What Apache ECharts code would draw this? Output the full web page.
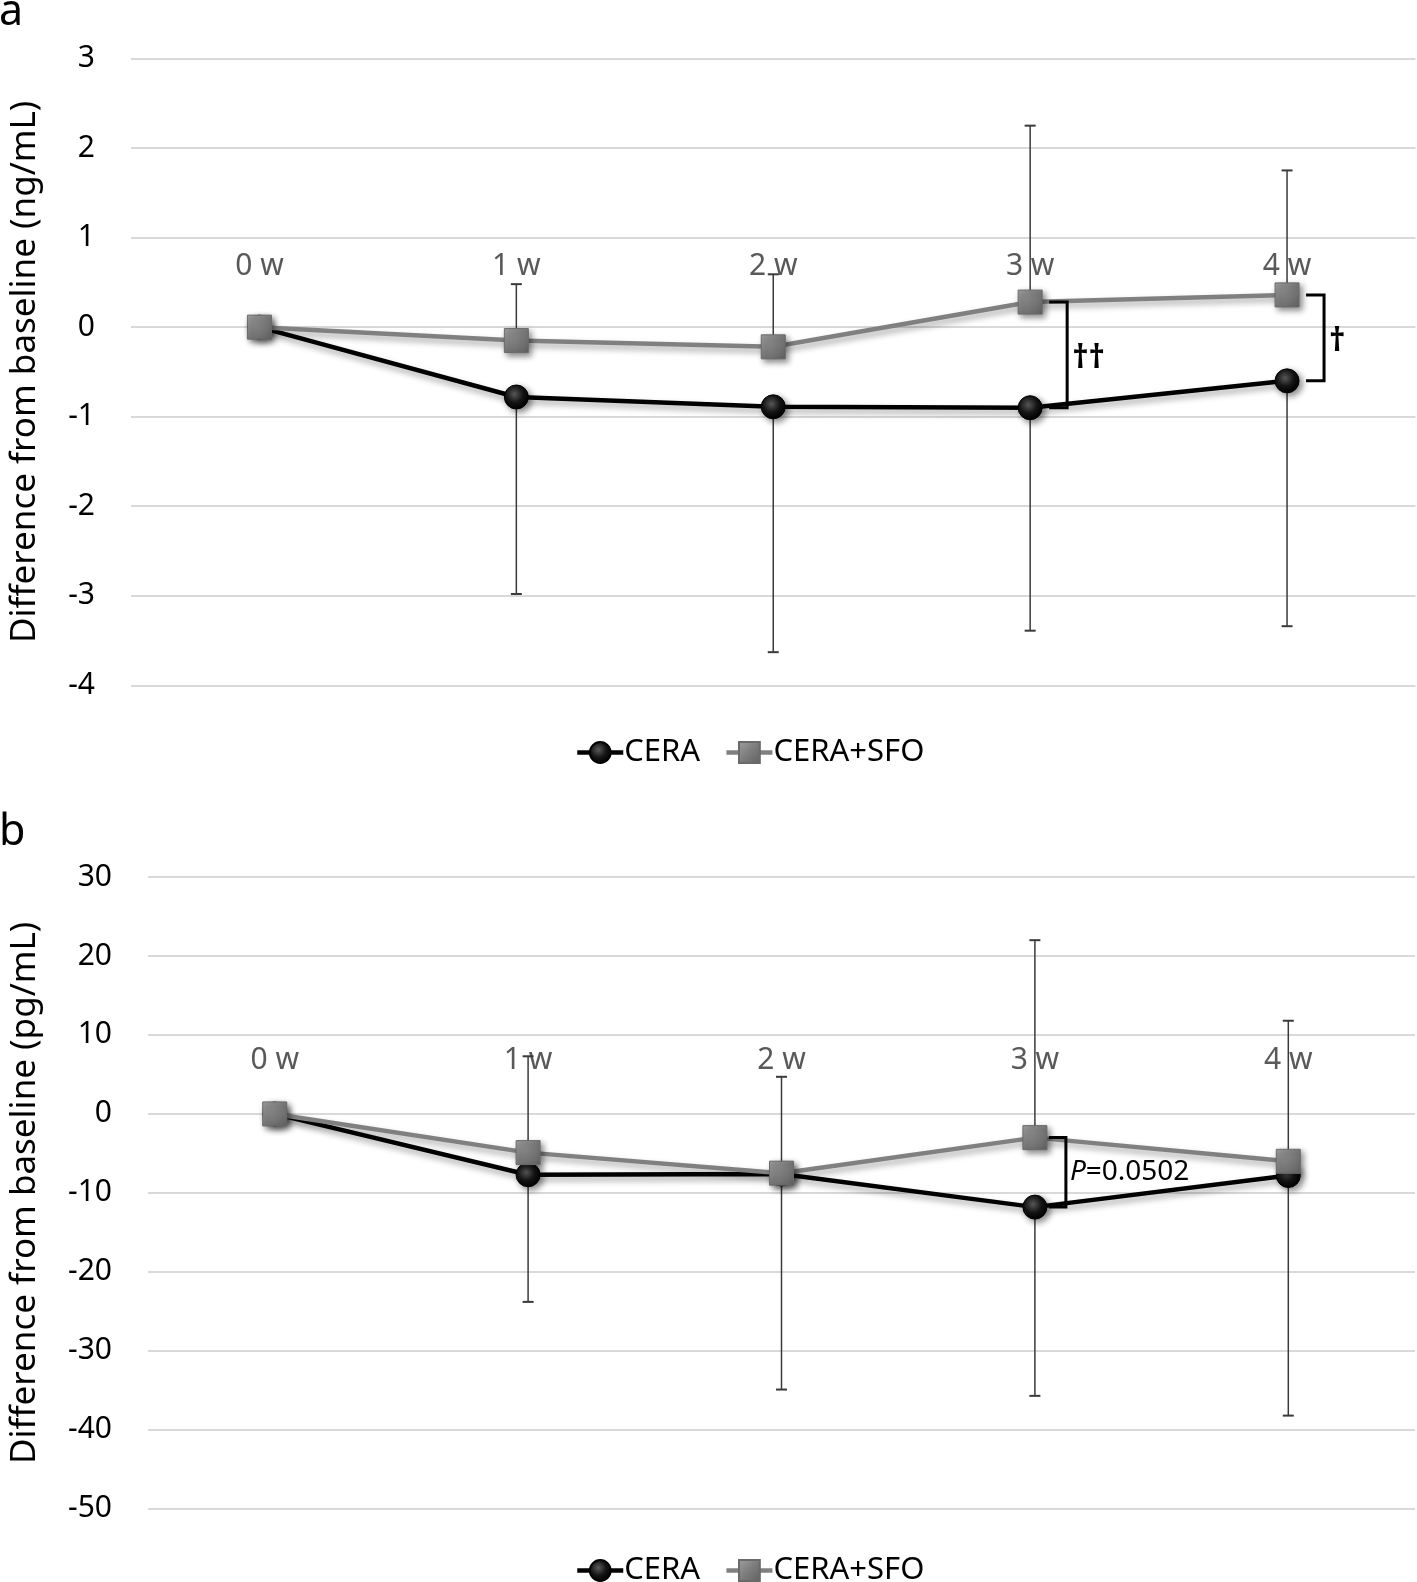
<!DOCTYPE html>
<html>
<head>
<meta charset="utf-8">
<script src="https://cdn.jsdelivr.net/npm/echarts@6/dist/echarts.min.js"></script>
<style>
html,body{margin:0;padding:0;background:#fff;}
#chart{width:1417px;height:1582px;}
</style>
</head>
<body>
<div id="chart"></div>
<script>
// ---- data ----
const weeks = ['0 w', '1 w', '2 w', '3 w', '4 w'];
const seriesNames = ['CERA', 'CERA+SFO'];

// Panel a (ng/mL)
const ceraA = [0, -0.78, -0.89, -0.90, -0.60];
const sfoA = [0, -0.15, -0.22, 0.28, 0.36];
const ceraSdA = [null, 2.20, 2.74, 2.49, 2.74];   // drawn downward
const sfoSdA = [null, 0.63, 0.81, 1.97, 1.39];    // drawn upward
const yTicksA = { min: -4, max: 3, interval: 1 };

// Panel b (pg/mL)
const ceraB = [0, -7.7, -7.6, -11.8, -7.8];
const sfoB = [0, -4.9, -7.5, -3.0, -6.0];
const ceraSdB = [null, 16.1, 27.3, 23.9, 30.4];
const sfoSdB = [null, 12.2, 12.2, 25.0, 17.8];
const yTicksB = { min: -50, max: 30, interval: 10 };

// significance brackets: category index and label
const sigA = [{ cat: 3, label: '††' }, { cat: 4, label: '†' }];
const sigB = [{ cat: 3, label: '{i|P}=0.0502' }];

const yTitleA = 'Difference from baseline (ng/mL)';
const yTitleB = 'Difference from baseline (pg/mL)';

// ---- chart ----
const FONT = '"Noto Sans", sans-serif';
const gridA = { left: 128.7, right: 1.5, top: 58.5, height: 626.8 };
const gridB = { left: 145.8, right: 2, top: 877, height: 631.8 };

const chart = echarts.init(document.getElementById('chart'), null, { renderer: 'canvas' });

const circleColor = {
  type: 'radial', x: 0.42, y: 0.38, r: 0.62,
  colorStops: [{ offset: 0, color: '#5a5a5a' }, { offset: 0.55, color: '#151515' }, { offset: 1, color: '#000' }]
};
const squareColor = {
  type: 'linear', x: 0, y: 0, x2: 1, y2: 1,
  colorStops: [{ offset: 0, color: '#a0a0a0' }, { offset: 0.5, color: '#7c7c7c' }, { offset: 1, color: '#606060' }]
};

function lineSeries(name, data, xi, isCera) {
  return {
    name: name, type: 'line', xAxisIndex: xi, yAxisIndex: xi, data: data,
    symbol: isCera ? 'circle' : 'rect', symbolSize: 24,
    z: isCera ? 3 : 4,
    lineStyle: {
      color: isCera ? '#000' : '#808080', width: 4.5,
      shadowBlur: 6, shadowColor: 'rgba(0,0,0,0.35)', shadowOffsetX: 2, shadowOffsetY: 4
    },
    itemStyle: {
      color: isCera ? circleColor : squareColor,
      borderColor: isCera ? '#000' : '#6a6a6a', borderWidth: 1,
      shadowBlur: 6, shadowColor: 'rgba(0,0,0,0.45)', shadowOffsetX: 3, shadowOffsetY: 3
    },
    emphasis: { disabled: true },
    animation: false
  };
}

function errorSeries(values, sds, dir, xi) {
  const d = [];
  values.forEach(function (v, i) {
    if (sds[i] != null) d.push([i, v, v + dir * sds[i]]);
  });
  return {
    type: 'custom', xAxisIndex: xi, yAxisIndex: xi, z: 1, silent: true,
    data: d,
    renderItem: function (params, api) {
      const p0 = api.coord([api.value(0), api.value(1)]);
      const p1 = api.coord([api.value(0), api.value(2)]);
      return {
        type: 'group', children: [
          { type: 'line', shape: { x1: p0[0], y1: p0[1], x2: p1[0], y2: p1[1] }, style: { stroke: '#3a3a3a', lineWidth: 1.5 } },
          { type: 'line', shape: { x1: p1[0] - 5.5, y1: p1[1], x2: p1[0] + 5.5, y2: p1[1] }, style: { stroke: '#3a3a3a', lineWidth: 2 } }
        ]
      };
    },
    animation: false
  };
}

function bracketSeries(sig, top, bottom, xi, off) {
  const d = sig.map(function (s) { return [s.cat, top[s.cat], bottom[s.cat]]; });
  return {
    type: 'custom', xAxisIndex: xi, yAxisIndex: xi, z: 5, silent: true,
    data: d,
    renderItem: function (params, api) {
      const s = sig[params.dataIndex];
      const pt = api.coord([api.value(0), api.value(1)]);
      const pb = api.coord([api.value(0), api.value(2)]);
      const x = pt[0];
      const xa = x + off[0], xb = x + off[1];
      return {
        type: 'group', children: [
          { type: 'polyline', shape: { points: [[xa, pt[1]], [xb, pt[1]], [xb, pb[1]], [xa, pb[1]]] },
            style: { stroke: '#000', lineWidth: 3, fill: null } },
          { type: 'text', x: xb + off[2], y: (pt[1] + pb[1]) / 2 + off[5],
            style: { text: s.label, fontSize: off[3], fontWeight: off[4], fontFamily: FONT, fill: '#000',
              align: 'left', verticalAlign: 'middle',
              rich: { i: { fontStyle: 'italic', fontSize: off[3], fontFamily: FONT, fill: '#000' } } } }
        ]
      };
    },
    animation: false
  };
}

// x axis sits on the zero line of its value axis (Excel "axis crosses at 0")
function xAxisCfg(gi, g, t, margin) {
  const zeroOffset = -g.height * (0 - t.min) / (t.max - t.min);
  return {
    type: 'category', gridIndex: gi, data: weeks, boundaryGap: true,
    position: 'bottom', offset: zeroOffset,
    axisLine: { show: false, onZero: false },
    axisTick: { show: false },
    axisLabel: { inside: true, margin: margin, color: '#595959', fontSize: 30, fontFamily: FONT },
    splitLine: { show: false }
  };
}
function yAxisCfg(gi, t, title, gap) {
  return {
    type: 'value', gridIndex: gi, min: t.min, max: t.max, interval: t.interval,
    axisLine: { show: false }, axisTick: { show: false },
    axisLabel: { color: '#000', fontSize: 30, fontFamily: FONT, margin: 36 },
    splitLine: { lineStyle: { color: '#d9d9d9', width: 2 } },
    name: title, nameLocation: 'middle', nameGap: gap,
    nameTextStyle: { color: '#000', fontSize: 35, fontFamily: FONT }
  };
}

function legendCfg(top) {
  return {
    data: seriesNames, left: 570, top: top, itemWidth: 46, itemHeight: 26, itemGap: 24,
    lineStyle: { width: 4.5 },
    textStyle: { fontSize: 31, color: '#000', fontFamily: FONT, padding: [0, 0, 0, -4] }
  };
}

const option = {
  backgroundColor: '#fff',
  animation: false,
  textStyle: { fontFamily: FONT },
  grid: [gridA, gridB],
  xAxis: [xAxisCfg(0, gridA, yTicksA, 46), xAxisCfg(1, gridB, yTicksB, 38)],
  yAxis: [yAxisCfg(0, yTicksA, yTitleA, 88), yAxisCfg(1, yTicksB, yTitleB, 105)],
  legend: [legendCfg(732), legendCfg(1550)],
  graphic: [
    { type: 'text', left: -1, top: -9, style: { text: 'a', fontSize: 43, fontFamily: FONT, fill: '#000' } },
    { type: 'text', left: -1, top: 811, style: { text: 'b', fontSize: 43, fontFamily: FONT, fill: '#000' } }
  ],
  series: [
    errorSeries(ceraA, ceraSdA, -1, 0),
    errorSeries(sfoA, sfoSdA, 1, 0),
    lineSeries(seriesNames[0], ceraA, 0, true),
    lineSeries(seriesNames[1], sfoA, 0, false),
    bracketSeries(sigA, sfoA, ceraA, 0, [19, 37, 5, 32, 'bold', 4]),
    errorSeries(ceraB, ceraSdB, -1, 1),
    errorSeries(sfoB, sfoSdB, 1, 1),
    lineSeries(seriesNames[0], ceraB, 1, true),
    lineSeries(seriesNames[1], sfoB, 1, false),
    bracketSeries(sigB, sfoB, ceraB, 1, [14, 31, 4, 28, 'normal', 0])
  ]
};
chart.setOption(option);
</script>
</body>
</html>
